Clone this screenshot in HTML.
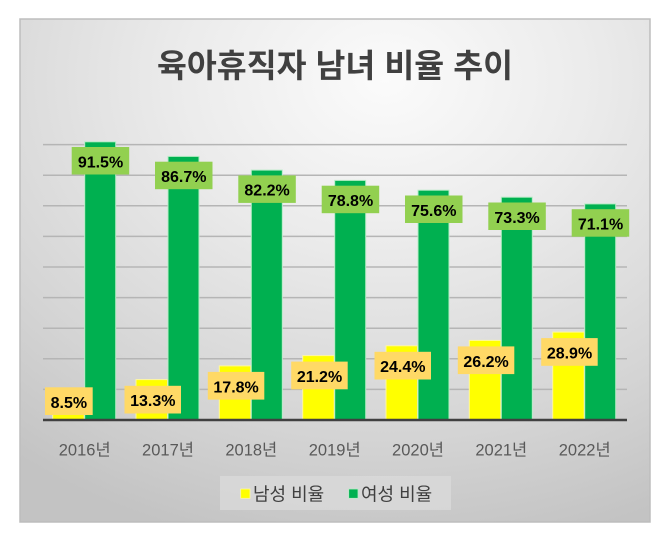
<!DOCTYPE html>
<html><head><meta charset="utf-8">
<style>
html,body{margin:0;padding:0;background:#fff;}
svg{display:block;}
</style></head>
<body>
<svg width="670" height="544" viewBox="0 0 670 544" xmlns="http://www.w3.org/2000/svg">
<defs>
<radialGradient id="bg" cx="0.58" cy="0.12" r="0.95" fx="0.58" fy="0.12">
<stop offset="0" stop-color="#fbfbfb"/>
<stop offset="0.35" stop-color="#ebebeb"/>
<stop offset="0.75" stop-color="#d4d4d4"/>
<stop offset="1" stop-color="#c3c3c3"/>
</radialGradient>
</defs>
<rect x="20" y="19" width="630" height="503" fill="url(#bg)" stroke="#bdbdbd" stroke-width="1.5"/>
<text x="335" y="77" text-anchor="middle" font-family="'Liberation Sans','Noto Sans CJK KR',sans-serif" font-weight="bold" font-size="32.5" fill="#404040">육아휴직자 남녀 비율 추이</text>
<g stroke="#b5b5b5" stroke-width="1.5">
<line x1="43" x2="627" y1="144.6" y2="144.6"/>
<line x1="43" x2="627" y1="175.2" y2="175.2"/>
<line x1="43" x2="627" y1="205.8" y2="205.8"/>
<line x1="43" x2="627" y1="236.4" y2="236.4"/>
<line x1="43" x2="627" y1="267" y2="267"/>
<line x1="43" x2="627" y1="297.6" y2="297.6"/>
<line x1="43" x2="627" y1="328.2" y2="328.2"/>
<line x1="43" x2="627" y1="358.8" y2="358.8"/>
<line x1="43" x2="627" y1="389.4" y2="389.4"/>
</g>
<g stroke-width="1">
<g fill="#ffff00" stroke="#fff7a0">
<rect x="52.7" y="394.2" width="31.5" height="25.8"/>
<rect x="136" y="379.6" width="31.5" height="40.4"/>
<rect x="219.3" y="365.9" width="31.5" height="54.1"/>
<rect x="302.7" y="355.6" width="31.5" height="64.4"/>
<rect x="386" y="345.8" width="31.5" height="74.2"/>
<rect x="469.3" y="340.4" width="31.5" height="79.6"/>
<rect x="552.7" y="332.1" width="31.5" height="87.9"/>
</g>
<g fill="#00b050" stroke="#b8ecc6">
<rect x="84.7" y="141.8" width="31" height="278.2"/>
<rect x="168" y="156.4" width="31" height="263.6"/>
<rect x="251.3" y="170.1" width="31" height="249.9"/>
<rect x="334.7" y="180.4" width="31" height="239.6"/>
<rect x="418" y="190.2" width="31" height="229.8"/>
<rect x="501.3" y="197.2" width="31" height="222.8"/>
<rect x="584.7" y="203.9" width="31" height="216.1"/>
</g>
</g>
<line x1="43" x2="627" y1="420" y2="420" stroke="#404040" stroke-width="2.5"/>
<g fill="#92d050">
<rect x="71.7" y="147" width="57.5" height="27.5"/>
<rect x="155" y="161.7" width="57.5" height="27.5"/>
<rect x="238.3" y="175.4" width="57.5" height="27.5"/>
<rect x="321.7" y="185.7" width="57.5" height="27.5"/>
<rect x="405" y="195.5" width="57.5" height="27.5"/>
<rect x="488.3" y="202.5" width="57.5" height="27.5"/>
<rect x="571.7" y="209.2" width="57.5" height="27.5"/>
</g>
<g fill="#ffd966">
<rect x="45" y="387.3" width="47.7" height="27.7"/>
<rect x="124.5" y="385.8" width="56.5" height="27.7"/>
<rect x="207.8" y="371.9" width="56.5" height="27.7"/>
<rect x="291.2" y="361.6" width="56.5" height="27.7"/>
<rect x="374.5" y="351.8" width="56.5" height="27.7"/>
<rect x="457.8" y="346.4" width="56.5" height="27.7"/>
<rect x="541.2" y="338.1" width="56.5" height="27.7"/>
</g>
<g font-family="'Liberation Sans',sans-serif" font-weight="bold" font-size="16" fill="#000" text-anchor="middle">
<text x="100.5" y="167.3">91.5%</text>
<text x="183.8" y="182">86.7%</text>
<text x="267.1" y="195.7">82.2%</text>
<text x="350.5" y="206">78.8%</text>
<text x="433.8" y="215.8">75.6%</text>
<text x="517.1" y="222.8">73.3%</text>
<text x="600.5" y="229.5">71.1%</text>
<text x="68.9" y="407.8">8.5%</text>
<text x="152.8" y="406.2">13.3%</text>
<text x="236.1" y="392.3">17.8%</text>
<text x="319.5" y="382">21.2%</text>
<text x="402.8" y="372.2">24.4%</text>
<text x="486.1" y="366.8">26.2%</text>
<text x="569.5" y="358.5">28.9%</text>
</g>
<g font-family="'Liberation Sans','Noto Sans CJK KR',sans-serif" font-size="16.5" fill="#595959" text-anchor="middle">
<text x="84.7" y="455.5">2016년</text>
<text x="168" y="455.5">2017년</text>
<text x="251.3" y="455.5">2018년</text>
<text x="334.7" y="455.5">2019년</text>
<text x="418" y="455.5">2020년</text>
<text x="501.3" y="455.5">2021년</text>
<text x="584.7" y="455.5">2022년</text>
</g>
<rect x="220" y="476" width="231" height="34" fill="#d9d9d9" opacity="0.8"/>
<rect x="240.7" y="489" width="9.3" height="9.3" fill="#ffff00" stroke="#fff7a0" stroke-width="0.8"/>
<rect x="348.7" y="489" width="9.3" height="9.3" fill="#00b050" stroke="#b8ecc6" stroke-width="0.8"/>
<g font-family="'Liberation Sans','Noto Sans CJK KR',sans-serif" font-size="18" fill="#404040">
<text x="253" y="500.5">남성 비율</text>
<text x="361" y="500.5">여성 비율</text>
</g>
</svg>
</body></html>
